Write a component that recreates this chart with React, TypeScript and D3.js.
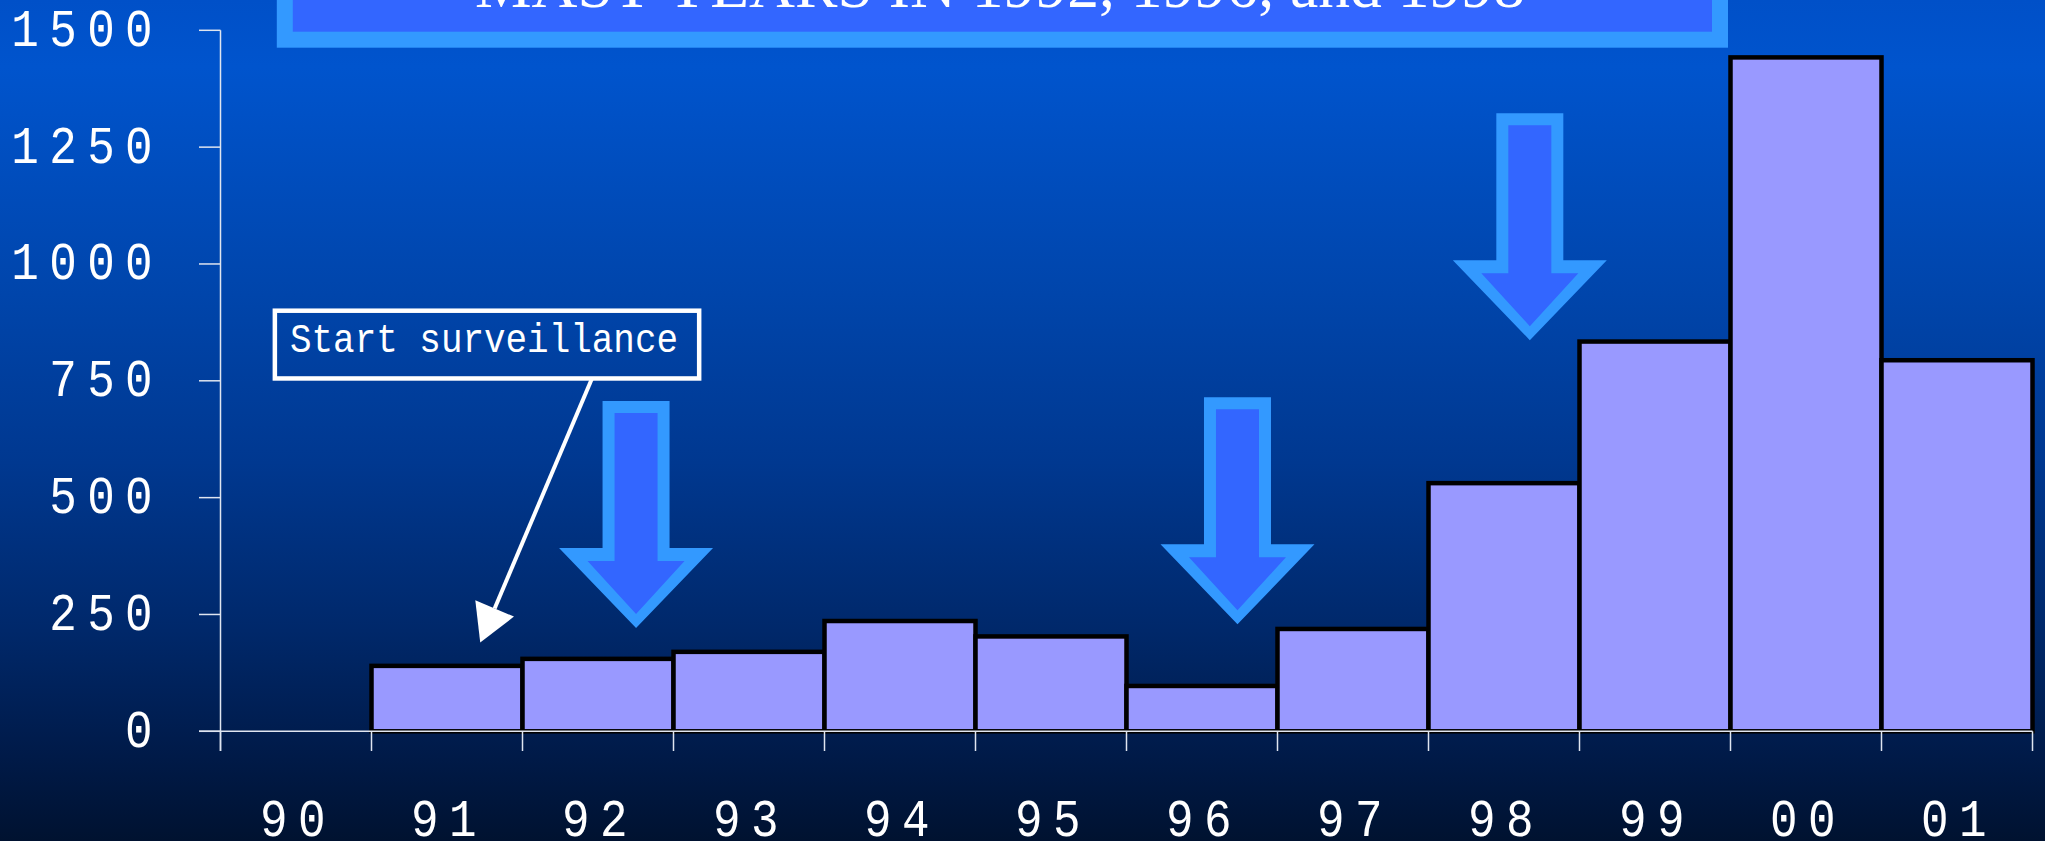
import React from "react";
import * as d3 from "d3";

const years = ["90", "91", "92", "93", "94", "95", "96", "97", "98", "99", "00", "01"];
const cases = [0, 140, 155, 170, 236, 203, 97, 219, 531, 834, 1442, 794];
const yTicks = [0, 250, 500, 750, 1000, 1250, 1500];
const titleText = "MAST YEARS IN 1992, 1996, and 1998";
const noteText = "Start surveillance";
// mast-year arrows: year band, relative position in band, tip value
const mastYears = ["92", "96", "98"];
const mastPos = [0.752, 0.735, 0.671];
const mastTip = [221, 229, 837];

const W = 2045;
const H = 841;

export default function App() {
  const x = d3.scaleBand<string>().domain(years).range([220.5, 2032.5]).padding(0);
  const y = d3.scaleLinear().domain([0, 1500]).range([731.3, 30.3]);
  const bw = x.bandwidth();
  const axisColor = "#dfe5f0";
  const numFont = "'Liberation Mono', monospace";
  const sx = 0.85;

  const boundaries = years.map((yr) => x(yr) as number).concat([(x(years[years.length - 1]) as number) + bw]);

  // annotation box geometry from scales
  const boxX0 = (x("90") as number) + bw * 0.36;
  const boxX1 = (x("93") as number) + bw * 0.17;
  const boxY0 = y(900);
  const boxY1 = y(755);
  const lineX0 = (x("92") as number) + bw * 0.46;
  const tipX = (x("91") as number) + bw * 0.72;
  const tipY = y(190);
  const dx = tipX - lineX0;
  const dy = tipY - boxY1;
  const len = Math.sqrt(dx * dx + dy * dy);
  const ux = dx / len;
  const uy = dy / len;
  const headLen = 37;
  const headHw = 21;
  const bx = tipX - ux * headLen;
  const by = tipY - uy * headLen;
  const head = [
    [tipX, tipY],
    [bx - uy * headHw, by + ux * headHw],
    [bx + uy * headHw, by - ux * headHw],
  ];

  const arrowPath = (cx: number, ty: number, outer: boolean) => {
    const p = outer
      ? { top: ty - 227, wing: ty - 80, shw: 33.5, hhw: 77, tip: ty }
      : { top: ty - 215, wing: ty - 67, shw: 21.5, hhw: 48.5, tip: ty - 14 };
    const pts = [
      [cx - p.shw, p.top],
      [cx + p.shw, p.top],
      [cx + p.shw, p.wing],
      [cx + p.hhw, p.wing],
      [cx, p.tip],
      [cx - p.hhw, p.wing],
      [cx - p.shw, p.wing],
    ];
    return d3.line()(pts as [number, number][]) + "Z";
  };

  return (
    <svg
      width={W}
      height={H}
      style={{ position: "absolute", left: 0, top: 0, display: "block" }}
    >
      <defs>
        <linearGradient id="bg" x1="0" y1="0" x2="0" y2="1">
          <stop offset="0" stopColor="#0050c8" />
          <stop offset="0.08" stopColor="#0054cd" />
          <stop offset="0.35" stopColor="#0045ab" />
          <stop offset="0.55" stopColor="#003890" />
          <stop offset="0.75" stopColor="#00286a" />
          <stop offset="0.9" stopColor="#001a48" />
          <stop offset="1" stopColor="#001230" />
        </linearGradient>
      </defs>
      <rect x={0} y={0} width={W} height={H} fill="url(#bg)" />

      {/* title box */}
      <rect x={284.8} y={-40} width={1435.2} height={79.7} fill="#3366ff" stroke="#3399ff" strokeWidth={16} />
      <text
        x={1000}
        y={7}
        textAnchor="middle"
        fill="#ffffff"
        fontFamily="'Liberation Serif', 'Times New Roman', serif"
        fontSize={64}
        textLength={1050}
        lengthAdjust="spacingAndGlyphs"
      >
        {titleText}
      </text>

      {/* bars */}
      {years.map((yr, i) =>
        cases[i] > 0 ? (
          <rect
            key={yr}
            x={x(yr)}
            y={y(cases[i])}
            width={bw}
            height={y(0) - y(cases[i])}
            fill="#9999ff"
            stroke="#000000"
            strokeWidth={4.5}
          />
        ) : null
      )}

      {/* axes */}
      <line x1={220.5} x2={220.5} y1={y(1500)} y2={751} stroke={axisColor} strokeWidth={1.5} />
      {yTicks.map((t) => (
        <line key={"yt" + t} x1={199} x2={220.5} y1={y(t)} y2={y(t)} stroke={axisColor} strokeWidth={1.5} />
      ))}
      <line x1={199} x2={boundaries[boundaries.length - 1]} y1={y(0)} y2={y(0)} stroke={axisColor} strokeWidth={1.5} />
      {boundaries.map((b, i) => (
        <line key={"xt" + i} x1={b} x2={b} y1={y(0)} y2={751} stroke={axisColor} strokeWidth={1.5} />
      ))}

      {yTicks.map((t) => (
        <text
          key={"yl" + t}
          transform={`translate(163,${y(t) + 15.5}) scale(${sx},1)`}
          textAnchor="end"
          fill="#ffffff"
          fontFamily={numFont}
          fontSize={54}
          letterSpacing={12.2}
        >
          {String(t)}
        </text>
      ))}
      {years.map((yr) => (
        <text
          key={"xl" + yr}
          transform={`translate(${(x(yr) as number) + bw / 2 + 2},835.7) scale(${sx},1)`}
          textAnchor="middle"
          fill="#ffffff"
          fontFamily={numFont}
          fontSize={54}
          letterSpacing={12.2}
        >
          {yr}
        </text>
      ))}

      {/* mast year arrows */}
      {mastYears.map((yr, i) => {
        const cx = (x(yr) as number) + bw * mastPos[i];
        const ty = y(mastTip[i]);
        return (
          <g key={"arr" + yr}>
            <path d={arrowPath(cx, ty, true)} fill="#3399ff" />
            <path d={arrowPath(cx, ty, false)} fill="#3366ff" />
          </g>
        );
      })}

      {/* start surveillance annotation */}
      <rect
        x={boxX0}
        y={boxY0}
        width={boxX1 - boxX0}
        height={boxY1 - boxY0}
        fill="none"
        stroke="#ffffff"
        strokeWidth={4.5}
      />
      <text
        x={290}
        y={351.7}
        fill="#ffffff"
        fontFamily={numFont}
        fontSize={40}
        textLength={388}
        lengthAdjust="spacingAndGlyphs"
      >
        {noteText}
      </text>
      <line x1={lineX0} y1={boxY1} x2={bx} y2={by} stroke="#ffffff" strokeWidth={4} />
      <path d={d3.line()(head as [number, number][]) + "Z"} fill="#ffffff" />
    </svg>
  );
}
